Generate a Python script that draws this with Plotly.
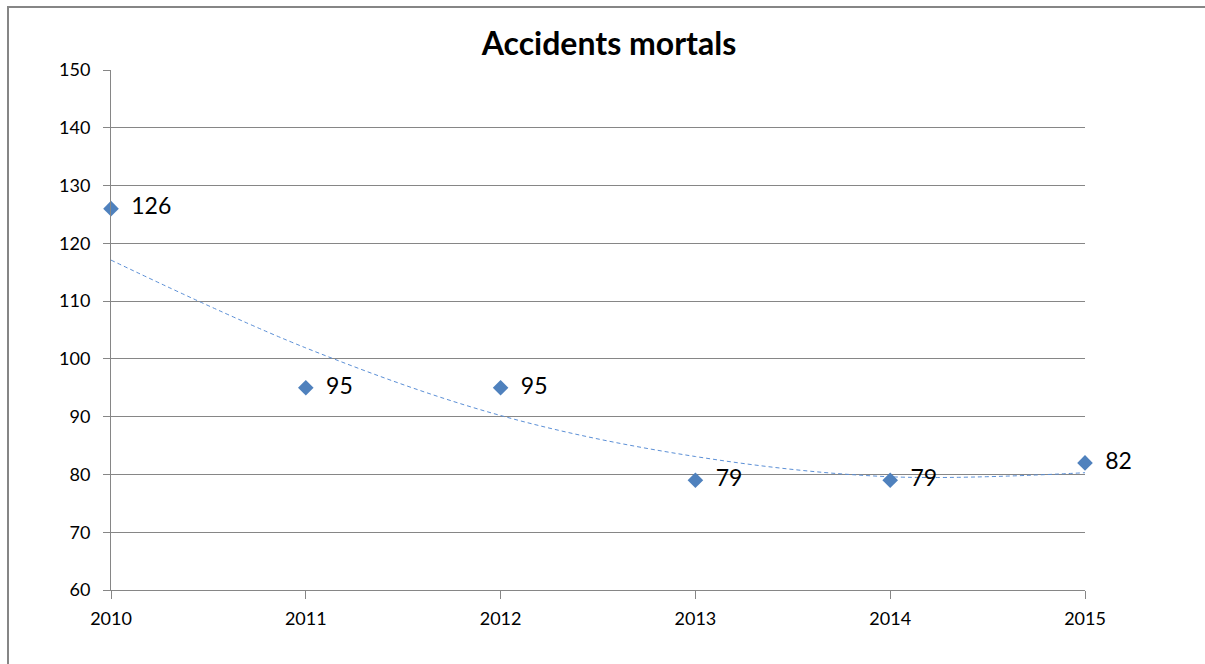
import plotly.graph_objects as go

# Fatal accidents per year
years = [2010, 2011, 2012, 2013, 2014, 2015]
deaths = [126, 95, 95, 79, 79, 82]

# Trend curve values at each year
trend = [117.1, 101.9, 90.2, 83.1, 79.6, 80.3]

y_ticks = [60, 70, 80, 90, 100, 110, 120, 130, 140, 150]

GRAY = "#868686"
BLUE = "#4F81BD"
FONT = "Lato, 'Open Sans', sans-serif"

W, H = 1205, 664
ML, MR, MT, MB = 111, 120, 70, 74
plot_w = W - ML - MR
plot_h = H - MT - MB


def px_x(px):
    return (px - ML) / plot_w


def px_y(py):
    return (H - MB - py) / plot_h


fig = go.Figure()

fig.add_trace(go.Scatter(
    x=years, y=trend, mode="lines",
    line=dict(color="#5B8FD6", width=1, dash="4px,3px", shape="spline", smoothing=1.0),
    hoverinfo="skip", showlegend=False,
))

fig.add_trace(go.Scatter(
    x=years, y=deaths, mode="markers+text",
    marker=dict(symbol="diamond", size=12, color=BLUE),
    text=[f"  {v}" for v in deaths],
    textposition="middle right",
    textfont=dict(family=FONT, size=23, color="#000000"),
    cliponaxis=False, showlegend=False,
))

# Outer frame: left and top edges (the others run past the page)
frame_path = (
    f"M {px_x(8)},{px_y(700)} L {px_x(8)},{px_y(7)} L {px_x(1300)},{px_y(7)}"
)

fig.update_layout(
    width=W, height=H,
    margin=dict(l=ML, r=MR, t=MT, b=MB),
    paper_bgcolor="white", plot_bgcolor="white",
    title=dict(
        text="<b>Accidents mortals</b>",
        x=609 / W, xanchor="center",
        y=1 - 44 / H, yanchor="middle",
        font=dict(family=FONT, size=32, color="#000000"),
    ),
    xaxis=dict(
        range=[2010, 2015], tickvals=years, ticktext=[str(y) for y in years],
        showgrid=False, zeroline=False,
        showline=True, linecolor=GRAY, linewidth=1,
        ticks="outside", ticklen=8, tickcolor=GRAY, tickwidth=1,
        ticklabelstandoff=4,
        tickfont=dict(family=FONT, size=18, color="#000000"),
    ),
    yaxis=dict(
        range=[60, 150], tickvals=y_ticks,
        showgrid=True, gridcolor=GRAY, gridwidth=1, zeroline=False,
        showline=True, linecolor=GRAY, linewidth=1,
        ticks="outside", ticklen=7, tickcolor=GRAY, tickwidth=1,
        ticklabelstandoff=9,
        tickfont=dict(family=FONT, size=18, color="#000000"),
    ),
    shapes=[dict(
        type="path", xref="paper", yref="paper", path=frame_path,
        line=dict(color=GRAY, width=2), layer="below",
    )],
)

fig.write_html("out.html")
